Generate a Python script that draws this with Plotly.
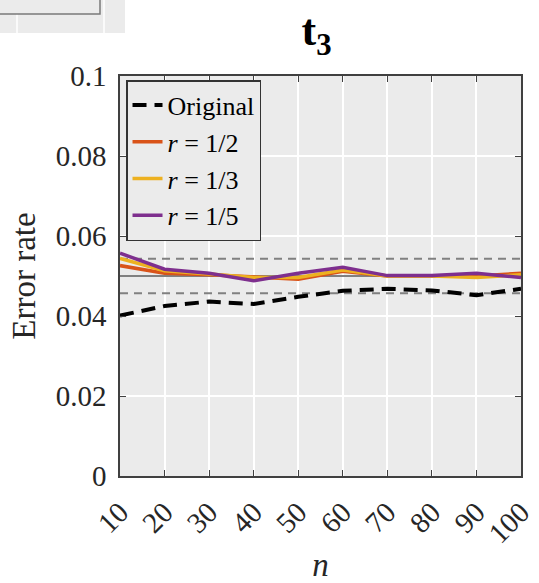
import plotly.graph_objects as go

# Sample sizes and empirical error rates
n_values = [10, 20, 30, 40, 50, 60, 70, 80, 90, 100]
err_original = [0.0401, 0.0425, 0.0436, 0.0430, 0.0448, 0.0463, 0.0468, 0.0464, 0.0452, 0.0468]
err_r_half = [0.0526, 0.0507, 0.0503, 0.0498, 0.0492, 0.0512, 0.0500, 0.0500, 0.0500, 0.0507]
err_r_third = [0.0544, 0.0513, 0.0505, 0.0496, 0.0496, 0.0515, 0.0500, 0.0500, 0.0496, 0.0503]
err_r_fifth = [0.0557, 0.0517, 0.0507, 0.0488, 0.0507, 0.0522, 0.0501, 0.0501, 0.0507, 0.0496]

# Nominal level and its Monte Carlo band
nominal = 0.05
band_low = 0.0457
band_high = 0.0543

y_ticks = [0, 0.02, 0.04, 0.06, 0.08, 0.1]
y_tick_text = ["0", "0.02", "0.04", "0.06", "0.08", "0.1"]

FONT = "Liberation Serif"
C_ORIG = "#000000"
C_HALF = "#D95319"
C_THIRD = "#EDB120"
C_FIFTH = "#7E2F8E"

fig = go.Figure()

# Reference lines (nominal level and band)
fig.add_trace(go.Scatter(x=[n_values[0], n_values[-1]], y=[nominal, nominal], mode="lines",
                         line=dict(color="#808080", width=2), showlegend=False, hoverinfo="skip"))
for lvl in (band_low, band_high):
    fig.add_trace(go.Scatter(x=[n_values[0], n_values[-1]], y=[lvl, lvl], mode="lines",
                             line=dict(color="#808080", width=2, dash="8px,6px"),
                             showlegend=False, hoverinfo="skip"))

series = [
    ("Original", err_original, C_ORIG, "14px,8px", 4),
    ("<i>r</i> = 1/2", err_r_half, C_HALF, "solid", 3.5),
    ("<i>r</i> = 1/3", err_r_third, C_THIRD, "solid", 3.5),
    ("<i>r</i> = 1/5", err_r_fifth, C_FIFTH, "solid", 3.5),
]
for i, (name, vals, col, dash, w) in enumerate(series):
    fig.add_trace(go.Scatter(x=n_values, y=vals, mode="lines", name=name,
                             line=dict(color=col, width=w, dash=dash)))

# Edge of the neighbouring panel at the top-left
fig.add_shape(type="rect", xref="paper", yref="paper",
              x0=-0.30, x1=0.0125, y0=(476 - 33) / 400, y1=1.2,
              fillcolor="#EBEBEB", line=dict(width=0), layer="above")
fig.add_shape(type="line", xref="paper", yref="paper",
              x0=(17 - 120) / 401, x1=(17 - 120) / 401, y0=(476 - 33) / 400, y1=1.2,
              line=dict(color="white", width=1.5))
fig.add_shape(type="line", xref="paper", yref="paper",
              x0=(104 - 120) / 401, x1=(104 - 120) / 401, y0=(476 - 33) / 400, y1=1.2,
              line=dict(color="white", width=1.5))
fig.add_shape(type="rect", xref="paper", yref="paper",
              x0=-0.31, x1=(100 - 120) / 401, y0=(476 - 14) / 400, y1=1.2,
              fillcolor="#EBEBEB", line=dict(color="#7a7a7a", width=1.5))

fig.update_layout(
    width=539, height=583,
    margin=dict(l=120, r=18, t=76, b=107, autoexpand=False),
    paper_bgcolor="white",
    plot_bgcolor="#EBEBEB",
    font=dict(family=FONT, size=29, color="#262626"),
    title=dict(text="<b>t<sub>3</sub></b>", x=(316.5 / 539), xanchor="center",
               y=1 - 30 / 583, yanchor="middle",
               font=dict(family=FONT, size=44, color="black")),
    showlegend=True,
    legend=dict(x=0.015, y=0.99, xanchor="left", yanchor="top",
                bgcolor="#EBEBEB", bordercolor="#333333", borderwidth=1.5,
                font=dict(family=FONT, size=26, color="black"),
                tracegroupgap=0, itemwidth=30),
    xaxis=dict(range=[10, 100], tickmode="array", tickvals=n_values,
               ticktext=[str(v) for v in n_values], tickangle=-45,
               automargin=False,
               showgrid=True, gridcolor="white", gridwidth=1.5,
               showline=True, linecolor="#404040", linewidth=1.5, mirror="ticks",
               ticks="inside", ticklen=6, tickcolor="#404040",
               ticklabelstandoff=6,
               zeroline=False,
               title=dict(text="<i>n</i>", font=dict(size=33), standoff=8)),
    yaxis=dict(range=[0, 0.1], tickmode="array", tickvals=y_ticks, ticktext=y_tick_text,
               automargin=False,
               showgrid=True, gridcolor="white", gridwidth=1.5,
               showline=True, linecolor="#404040", linewidth=1.5, mirror="ticks",
               ticks="inside", ticklen=6, tickcolor="#404040",
               ticklabelstandoff=6,
               zeroline=False,
               title=dict(text="Error rate", font=dict(size=33), standoff=10)),
)

fig.write_html("out.html")
